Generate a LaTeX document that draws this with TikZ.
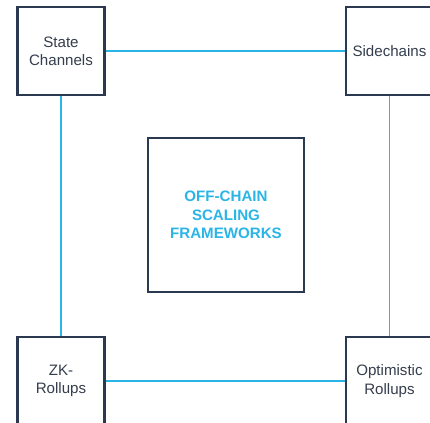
\documentclass[tikz,border=0pt]{standalone}
\usepackage{fontspec}
\setmainfont{Liberation Sans}
\definecolor{boxline}{HTML}{2B3950}
\definecolor{boxtext}{HTML}{343E4D}
\definecolor{linkcol}{HTML}{2BB5E6}
\tikzset{
	frame/.style={draw=boxline,line width=1.4pt,fill=white,minimum width=87*0.02cm,minimum height=88*0.02cm,inner sep=1pt,align=center,text=boxtext,font=\fontsize{8.6}{10.4}\selectfont},
	core/.style={draw=boxline,line width=1.4pt,fill=white,minimum width=156*0.02cm,minimum height=154*0.02cm,align=center,text=linkcol,font=\fontsize{8.6}{10.4}\selectfont\bfseries},
	link/.style={draw=linkcol,line width=1.1pt}
}
\begin{document}
\begin{tikzpicture}[x=0.02cm,y=-0.02cm]
	\useasboundingbox (0,0) rectangle (430,423);
	\clip (0,0) rectangle (430,423);

	\node [frame] (sc) at (61,51) {State\\Channels};
	\node [frame] (sd) at (389.5,51) {Sidechains};
	\node [frame] (zk) at (61,381) {ZK-\\Rollups};
	\node [frame] (op) at (389.5,381) {Optimistic\\Rollups};
	\node [core] (ocs) at (226,215) {OFF-CHAIN\\SCALING\\FRAMEWORKS};

	\draw [link] (sc) -- (sd);
	\draw [link] (sd) -- (op);
	\draw [link] (op) -- (zk);
	\draw [link] (zk) -- (sc);
\end{tikzpicture}
\end{document}
